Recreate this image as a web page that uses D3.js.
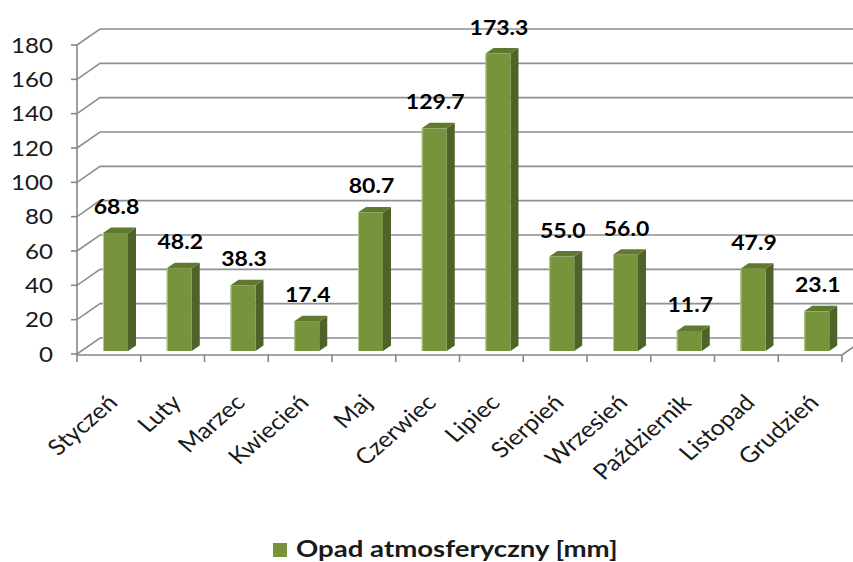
<!DOCTYPE html>
<html>
<head>
<meta charset="utf-8">
<script src="https://cdn.jsdelivr.net/npm/d3@7/dist/d3.min.js"></script>
<style>
  body { margin: 0; background: #fff; }
  svg { display: block; }
</style>
</head>
<body>
<svg id="chart" width="853" height="562"></svg>
<script>
// data
const months = ["Styczeń", "Luty", "Marzec", "Kwiecień", "Maj", "Czerwiec",
                "Lipiec", "Sierpień", "Wrzesień", "Październik", "Listopad", "Grudzień"];
const rainfall = [68.8, 48.2, 38.3, 17.4, 80.7, 129.7, 173.3, 55.0, 56.0, 11.7, 47.9, 23.1];
const yTicks = [0, 20, 40, 60, 80, 100, 120, 140, 160, 180];
const seriesName = "Opad atmosferyczny [mm]";

const svg = d3.select("#chart");
const W = 853;
const FONT = "Lato, 'Noto Sans', sans-serif";
const stretch = 1.15; // the original text is a bit wide

// 3d look: front plane and back wall offset
const back = {dx: 23, dy: -16};
const barDepth = {dx: 8, dy: -5.5};
const barShift = -3; // bars stand a little behind the front edge

const x = d3.scaleBand().domain(months).range([77, 842]);
const y = d3.scaleLinear().domain([0, 180]).range([354, 45]);

const gridColor = "#8f8f8f";
const axisColor = "#868686";

// --- gridlines (side wall diagonal + back wall) ---
const grid = svg.append("g");
yTicks.forEach(t => {
    const yf = y(t);
    grid.append("polyline")
        .attr("points", `${x.range()[0]},${yf} ${x.range()[0] + back.dx},${yf + back.dy} ${W},${yf + back.dy}`)
        .attr("fill", "none")
        .attr("stroke", gridColor)
        .attr("stroke-width", 1.6);
    grid.append("line")
        .attr("x1", x.range()[0] - 6).attr("x2", x.range()[0])
        .attr("y1", yf).attr("y2", yf)
        .attr("stroke", axisColor).attr("stroke-width", 1.6);
});

// front axes
grid.append("line")
    .attr("x1", 77).attr("x2", 77)
    .attr("y1", y(180)).attr("y2", y(0) + 1)
    .attr("stroke", axisColor).attr("stroke-width", 1.6);
grid.append("polyline")
    .attr("points", `77,${y(0) + 1} 842,${y(0) + 1} ${842 + back.dx},${y(0) + 1 + back.dy}`)
    .attr("fill", "none")
    .attr("stroke", axisColor).attr("stroke-width", 1.6);

// x ticks
const xEdges = months.map(m => x(m)).concat([x.range()[1]]);
grid.selectAll(".xtick").data(xEdges).join("line")
    .attr("class", "xtick")
    .attr("x1", d => d).attr("x2", d => d)
    .attr("y1", y(0) + 1).attr("y2", y(0) + 8)
    .attr("stroke", axisColor).attr("stroke-width", 1.6);

// y labels
svg.append("g").selectAll("text").data(yTicks).join("text")
    .attr("transform", d => `translate(53,${y(d)}) scale(${stretch},1)`)
    .attr("dy", "0.36em")
    .attr("text-anchor", "end")
    .attr("font-family", FONT)
    .attr("font-size", 21)
    .attr("fill", "#1a1a1a")
    .text(d => d);

// --- bars ---
const bw = 25;
const bars = svg.append("g");
months.forEach((m, i) => {
    const v = rainfall[i];
    const x0 = x(m) + 26;
    const top = y(v) + barShift;
    const bot = y(0) + barShift;
    const d = barDepth;
    // side
    bars.append("polygon")
        .attr("points", `${x0 + bw},${top} ${x0 + bw + d.dx},${top + d.dy} ${x0 + bw + d.dx},${bot + d.dy} ${x0 + bw},${bot}`)
        .attr("fill", "#4f6228");
    // top
    bars.append("polygon")
        .attr("points", `${x0},${top} ${x0 + d.dx},${top + d.dy} ${x0 + bw + d.dx},${top + d.dy} ${x0 + bw},${top}`)
        .attr("fill", "#5f7a2e");
    // front
    bars.append("rect")
        .attr("x", x0).attr("y", top)
        .attr("width", bw).attr("height", bot - top)
        .attr("fill", "#77933c");
    bars.append("line")
        .attr("x1", x0 + 0.5).attr("x2", x0 + 0.5)
        .attr("y1", top).attr("y2", bot)
        .attr("stroke", "#b7cc8a").attr("stroke-width", 1);

    // value label
    bars.append("text")
        .attr("transform", `translate(${x0 + bw / 2 + 1},${top - 19}) scale(${stretch},1)`)
        .attr("text-anchor", "middle")
        .attr("font-family", FONT)
        .attr("font-weight", "bold")
        .attr("font-size", 20)
        .attr("fill", "#000")
        .text(v.toFixed(1));
});

// x labels, rotated
svg.append("g").selectAll("text").data(months).join("text")
    .attr("transform", m => `translate(${x(m) + x.bandwidth() / 2 + 10},${y(0) + 50}) scale(${stretch},1) rotate(-45)`)
    .attr("text-anchor", "end")
    .attr("font-family", FONT)
    .attr("font-size", 22)
    .attr("fill", "#1a1a1a")
    .text(m => m);

// legend
const lg = svg.append("g").attr("transform", "translate(273,543)");
lg.append("rect").attr("width", 14).attr("height", 14).attr("fill", "#77933c");
lg.append("text")
    .attr("transform", `translate(23,14) scale(1.2,1)`)
    .attr("font-family", FONT)
    .attr("font-weight", "bold")
    .attr("font-size", 23)
    .attr("fill", "#1a1a1a")
    .text(seriesName);
</script>
</body>
</html>
